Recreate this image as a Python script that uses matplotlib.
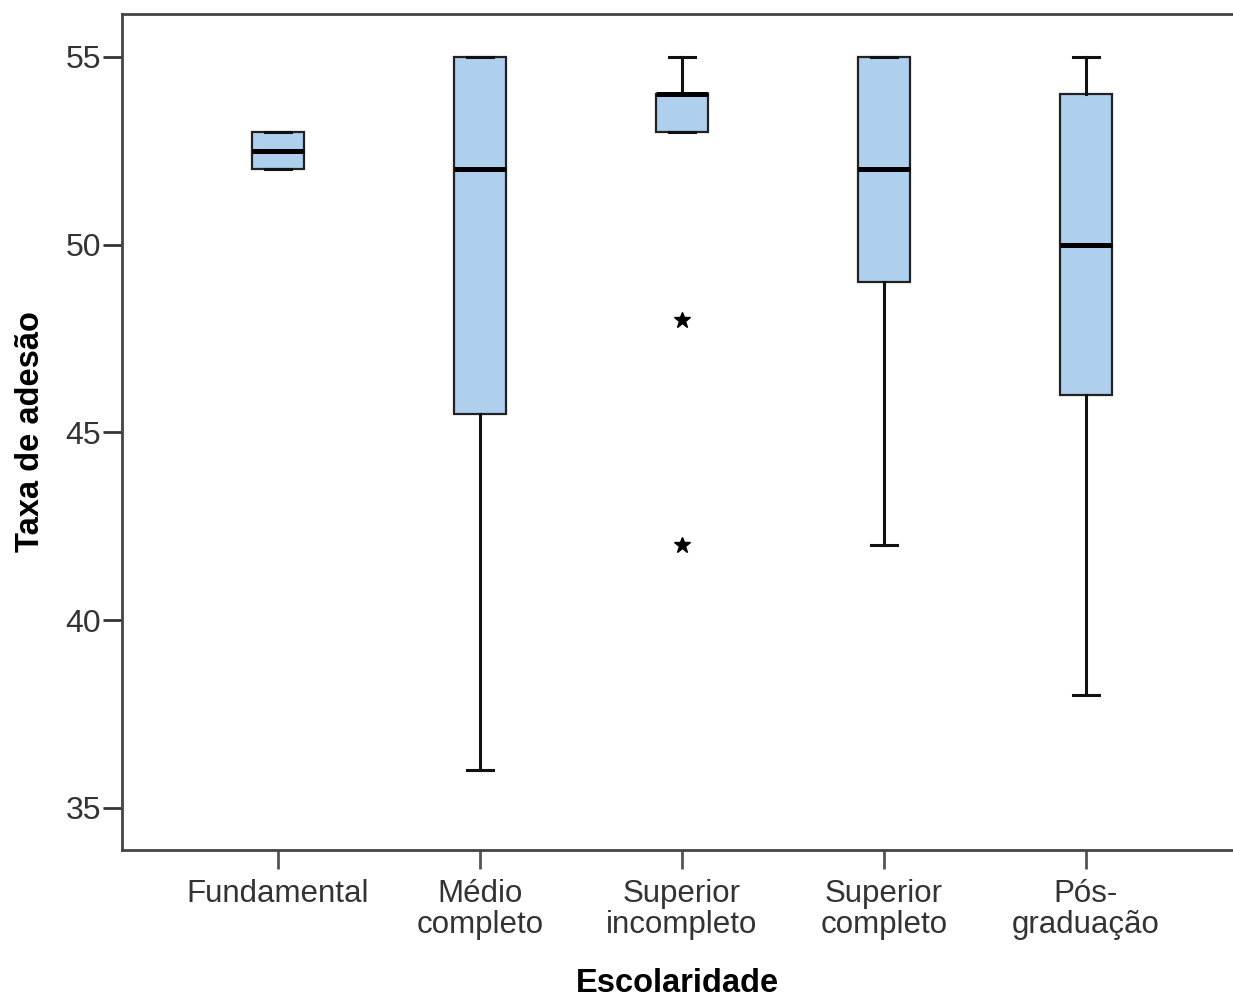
import matplotlib
import matplotlib.pyplot as plt

matplotlib.use("Agg")

categories = ["Fundamental", "Médio\ncompleto", "Superior\nincompleto",
              "Superior\ncompleto", "Pós-\ngraduação"]
whisker_low = [52, 36, 53, 42, 38]
quartile_1 = [52, 45.5, 53, 49, 46]
medians = [52.5, 52, 54, 52, 50]
quartile_3 = [53, 55, 54, 55, 54]
whisker_high = [53, 55, 55, 55, 55]
extremes = [[], [], [48, 42], [], []]
y_ticks = [35, 40, 45, 50, 55]

plt.rcParams["font.family"] = ["Liberation Sans", "DejaVu Sans"]

stats = []
for i, name in enumerate(categories):
    stats.append({
        "label": name,
        "whislo": whisker_low[i],
        "q1": quartile_1[i],
        "med": medians[i],
        "q3": quartile_3[i],
        "whishi": whisker_high[i],
        "fliers": extremes[i],
    })

fig = plt.figure(figsize=(12.33, 9.97), dpi=100)
ax = fig.add_axes([0.0989, 0.1474, 0.9011, 0.8386])

ax.bxp(
    stats,
    positions=range(len(categories)),
    widths=0.26,
    capwidths=0.13,
    patch_artist=True,
    boxprops=dict(facecolor="#AECFEE", edgecolor="#222222", linewidth=1.6),
    medianprops=dict(color="black", linewidth=3.6, solid_capstyle="butt"),
    whiskerprops=dict(color="#111111", linewidth=2.2),
    capprops=dict(color="#111111", linewidth=2.2),
    flierprops=dict(marker="*", markersize=12, markerfacecolor="black",
                    markeredgecolor="black"),
)

ax.set_xlim(-0.772, 4.728)
ax.set_ylim(33.88, 56.14)
ax.set_yticks(y_ticks)
ax.set_xticks(range(len(categories)))
ax.set_xticklabels(categories, linespacing=1.05)

ax.spines["right"].set_visible(False)
for side in ("left", "bottom", "top"):
    ax.spines[side].set_linewidth(2)
    ax.spines[side].set_color("#444444")

ax.tick_params(axis="y", length=14, width=2, color="#333333", pad=1,
               labelsize=23, labelcolor="#333333")
ax.tick_params(axis="x", length=14, width=2, color="#555555", pad=7,
               labelsize=22.5, labelcolor="#333333")

ax.set_ylabel("Taxa de adesão", fontsize=23.5, fontweight="bold", labelpad=14)
ax.set_xlabel("Escolaridade", fontsize=23.5, fontweight="bold", labelpad=20)

fig.savefig("out.png", dpi=100)
plt.close(fig)
